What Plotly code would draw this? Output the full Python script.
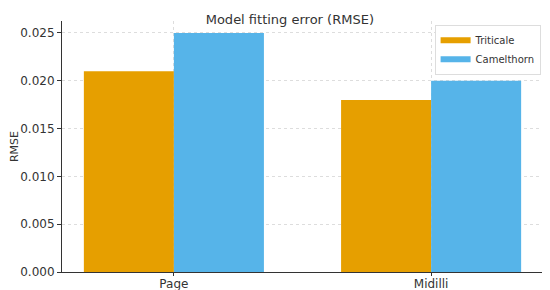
import plotly.graph_objects as go

models = ["Page", "Midilli"]
triticale = [0.021, 0.018]
camelthorn = [0.025, 0.020]
y_ticks = [0.0, 0.005, 0.010, 0.015, 0.020, 0.025]

font = "DejaVu Sans"
orange = "#E69F00"
blue = "#56B4E9"

fig = go.Figure()
fig.add_trace(go.Bar(x=models, y=triticale, name="Triticale", marker_color=orange,
                     marker_line_width=0, showlegend=False))
fig.add_trace(go.Bar(x=models, y=camelthorn, name="Camelthorn", marker_color=blue,
                     marker_line_width=0, showlegend=False))
# legend proxies, wide flat patches like matplotlib
for name, col in [("Triticale", orange), ("Camelthorn", blue)]:
    fig.add_trace(go.Scatter(x=[None], y=[None], mode="lines", name=name,
                             line=dict(color=col, width=6)))

# page body has an 8px margin, so the figure is 8px smaller than the window
fig.update_layout(
    width=542, height=282,
    margin=dict(l=54, r=7, t=13, b=18),
    barmode="group", bargap=0.3, bargroupgap=0,
    plot_bgcolor="white", paper_bgcolor="white",
    font=dict(family=font, size=12, color="#333333"),
    title=dict(text="Model fitting error (RMSE)", x=0.52, xanchor="center",
               y=0.975, yanchor="top", pad=dict(t=0, b=0),
               font=dict(size=13, color="#333333")),
    legend=dict(x=0.995, y=0.985, xanchor="right", yanchor="top",
                bordercolor="#dddddd", borderwidth=1, bgcolor="white",
                font=dict(size=10), itemwidth=30, tracegroupgap=0),
)
fig.update_xaxes(
    range=[-0.435, 1.435], showline=True, linecolor="#333333", linewidth=1,
    ticks="outside", ticklen=3, tickcolor="#333333", automargin=False,
    ticklabelstandoff=-2,
    showgrid=True, gridcolor="#dddddd", griddash="dot", gridwidth=1,
)
fig.update_yaxes(
    range=[0, 0.02625], tickvals=y_ticks, tickformat=".3f",
    showline=True, linecolor="#333333", linewidth=1,
    ticks="outside", ticklen=4, tickcolor="#333333", automargin=False,
    showgrid=True, gridcolor="#dddddd", griddash="dot", gridwidth=1,
    zeroline=False,
    title=dict(text="RMSE", font=dict(size=11), standoff=4),
)

fig.write_html("out.html")
